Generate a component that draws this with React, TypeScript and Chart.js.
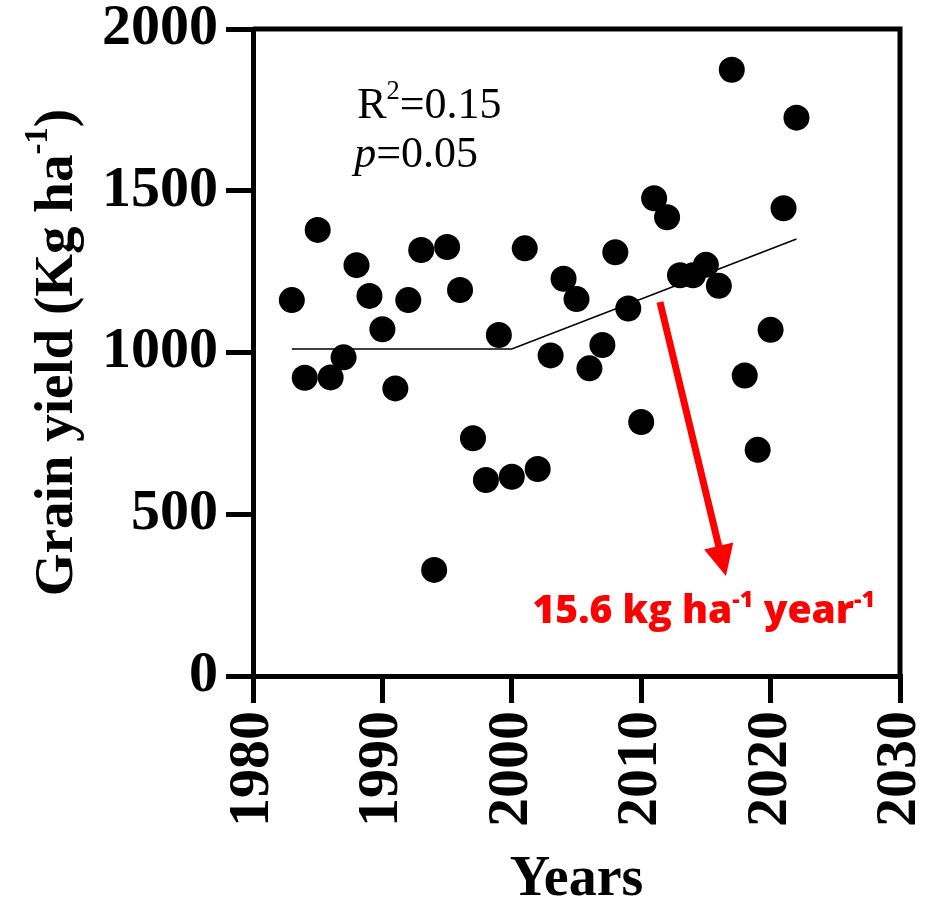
import React, { useEffect, useRef } from "react";
import { Chart, registerables } from "chart.js";

Chart.register(...registerables);

// ---------- data ----------
const years = [
  1983, 1984, 1985, 1986, 1987, 1988, 1989, 1990, 1991, 1992,
  1993, 1994, 1995, 1996, 1997, 1998, 1999, 2000, 2001, 2002,
  2003, 2004, 2005, 2006, 2007, 2008, 2009, 2010, 2011, 2012,
  2013, 2014, 2015, 2016, 2017, 2018, 2019, 2020, 2021, 2022,
];
const grainYield = [
  1162, 922, 1379, 923, 985, 1270, 1175, 1072, 889, 1162,
  1317, 328, 1326, 1193, 735, 606, 1054, 616, 1322, 640,
  991, 1228, 1165, 951, 1023, 1310, 1136, 785, 1477, 1418,
  1239, 1239, 1271, 1206, 1874, 929, 699, 1070, 1446, 1726,
];
const fitYears = [1983, 2000, 2022];
const fitYield = [1011, 1011, 1351];

const xMin = 1980;
const xMax = 2030;
const xStep = 10;
const yMin = 0;
const yMax = 2000;
const yStep = 500;

const r2Text = "0.15";
const pText = "0.05";
const slopeText = "15.6";
const xTitle = "Years";

// annotation anchors (data units)
const statsAnchor = { x: 1988.05, y: 1725 };
const slopeAnchor = { x: 2001.6, y: 164 };
const arrowFrom = { x: 2011.45, y: 1156 };
const arrowTo = { x: 2016.55, y: 309 };

const SERIF = "'Liberation Serif', 'Times New Roman', serif";
const SANS = "'Open Sans', Lato, sans-serif";

type Part = { t: string; sup?: boolean; italic?: boolean };

function drawRich(
  ctx: CanvasRenderingContext2D,
  parts: Part[],
  x: number,
  y: number,
  size: number,
  family: string,
  weight: string,
  color: string,
  supScale: number,
  supRaise: number,
  align: "left" | "center"
) {
  const fontOf = (p: Part) =>
    `${p.italic ? "italic " : ""}${weight} ${p.sup ? size * supScale : size}px ${family}`;
  let total = 0;
  const widths = parts.map((p) => {
    ctx.font = fontOf(p);
    const w = ctx.measureText(p.t).width;
    total += w;
    return w;
  });
  let cx = align === "center" ? x - total / 2 : x;
  ctx.fillStyle = color;
  ctx.textAlign = "left";
  ctx.textBaseline = "alphabetic";
  parts.forEach((p, i) => {
    ctx.font = fontOf(p);
    ctx.fillText(p.t, cx, p.sup ? y - size * supRaise : y);
    cx += widths[i];
  });
  return total;
}

const overlayPlugin = {
  id: "overlay",
  afterDatasetsDraw(chart: any) {
    const ctx: CanvasRenderingContext2D = chart.ctx;
    const xs = chart.scales.x;
    const ys = chart.scales.y;
    const ca = chart.chartArea;
    ctx.save();

    // top & right frame
    ctx.strokeStyle = "#000";
    ctx.lineWidth = 5;
    ctx.lineCap = "butt";
    ctx.beginPath();
    ctx.moveTo(ca.left, ca.top);
    ctx.lineTo(ca.right, ca.top);
    ctx.lineTo(ca.right, ca.bottom);
    ctx.stroke();

    // stats text
    const sx = xs.getPixelForValue(statsAnchor.x);
    const sy = ys.getPixelForValue(statsAnchor.y);
    drawRich(ctx, [{ t: "R" }, { t: "2", sup: true }, { t: "=" + r2Text }], sx, sy, 44, SERIF, "normal", "#000", 0.6, 0.42, "left");
    drawRich(ctx, [{ t: "p", italic: true }, { t: "=" + pText }], sx - 3, sy + 49, 44, SERIF, "normal", "#000", 0.6, 0.42, "left");

    // arrow
    const ax1 = xs.getPixelForValue(arrowFrom.x);
    const ay1 = ys.getPixelForValue(arrowFrom.y);
    const ax2 = xs.getPixelForValue(arrowTo.x);
    const ay2 = ys.getPixelForValue(arrowTo.y);
    const dx = ax2 - ax1;
    const dy = ay2 - ay1;
    const len = Math.hypot(dx, dy);
    const ux = dx / len;
    const uy = dy / len;
    const headLen = 31;
    const headHalf = 15;
    const bx = ax2 - ux * headLen;
    const by = ay2 - uy * headLen;
    ctx.strokeStyle = "#ff0000";
    ctx.fillStyle = "#ff0000";
    ctx.lineWidth = 7;
    ctx.beginPath();
    ctx.moveTo(ax1, ay1);
    ctx.lineTo(bx + ux * 2, by + uy * 2);
    ctx.stroke();
    ctx.beginPath();
    ctx.moveTo(ax2, ay2);
    ctx.lineTo(bx - uy * headHalf, by + ux * headHalf);
    ctx.lineTo(bx + uy * headHalf, by - ux * headHalf);
    ctx.closePath();
    ctx.fill();

    // slope text
    const tx = xs.getPixelForValue(slopeAnchor.x);
    const ty = ys.getPixelForValue(slopeAnchor.y);
    drawRich(
      ctx,
      [{ t: slopeText + " kg ha" }, { t: "-1", sup: true }, { t: " year" }, { t: "-1", sup: true }],
      tx, ty, 39, SANS, "800", "#ff0000", 0.6, 0.42, "left"
    );

    // axis titles
    ctx.save();
    ctx.translate(72, (ca.top + ca.bottom) / 2);
    ctx.rotate(-Math.PI / 2);
    drawRich(ctx, [{ t: "Grain yield (Kg ha" }, { t: "-1", sup: true }, { t: ")" }], 0, 0, 55, SERIF, "bold", "#000", 0.6, 0.45, "center");
    ctx.restore();
    drawRich(ctx, [{ t: xTitle }], (ca.left + ca.right) / 2, 895, 56, SERIF, "bold", "#000", 0.6, 0.4, "center");

    ctx.restore();
  },
};

function zeroPad(s: any) {
  s.paddingLeft = 0;
  s.paddingRight = 0;
  s.paddingTop = 0;
  s.paddingBottom = 0;
}

export default function App() {
  const ref = useRef<HTMLCanvasElement | null>(null);
  useEffect(() => {
    document.body.style.margin = "0";
    if (!ref.current) return;
    const tickFont = { family: SERIF, size: 58, weight: "bold" as const };
    const chart = new Chart(ref.current, {
      type: "scatter",
      data: {
        datasets: [
          {
            type: "scatter",
            data: years.map((y, i) => ({ x: y, y: grainYield[i] })),
            pointRadius: 13,
            pointHoverRadius: 13,
            backgroundColor: "#000",
            borderColor: "#000",
            borderWidth: 0,
            order: 1,
          },
          {
            type: "line",
            data: fitYears.map((y, i) => ({ x: y, y: fitYield[i] })),
            borderColor: "#000",
            borderWidth: 1.5,
            pointRadius: 0,
            fill: false,
            tension: 0,
            order: 2,
          } as any,
        ],
      },
      options: {
        responsive: false,
        animation: false,
        devicePixelRatio: 1,
        layout: { padding: { left: 0, top: 29, right: 29, bottom: 0 } },
        plugins: { legend: { display: false }, tooltip: { enabled: false } },
        scales: {
          x: {
            type: "linear",
            min: xMin,
            max: xMax,
            ticks: {
              stepSize: xStep,
              minRotation: 90,
              maxRotation: 90,
              padding: 8,
              color: "#000",
              font: tickFont,
              callback: (v: any) => String(v),
            },
            grid: { drawOnChartArea: false, drawTicks: true, tickLength: 27, lineWidth: 5, color: "#000" },
            border: { display: true, width: 5, color: "#000" },
            afterFit: (s: any) => {
              s.height = 907 - 676;
              zeroPad(s);
            },
          },
          y: {
            type: "linear",
            min: yMin,
            max: yMax,
            ticks: {
              stepSize: yStep,
              padding: 8,
              color: "#000",
              font: tickFont,
              callback: (v: any) => String(v),
            },
            grid: { drawOnChartArea: false, drawTicks: true, tickLength: 27, lineWidth: 5, color: "#000" },
            border: { display: true, width: 5, color: "#000" },
            afterFit: (s: any) => {
              s.width = 253;
              zeroPad(s);
            },
          },
        },
      },
      plugins: [overlayPlugin],
    });
    return () => chart.destroy();
  }, []);
  return (
    <div style={{ position: "absolute", left: 0, top: 0, width: 929, height: 907, background: "#fff" }}>
      <canvas ref={ref} width={929} height={907} style={{ width: 929, height: 907 }} />
    </div>
  );
}
